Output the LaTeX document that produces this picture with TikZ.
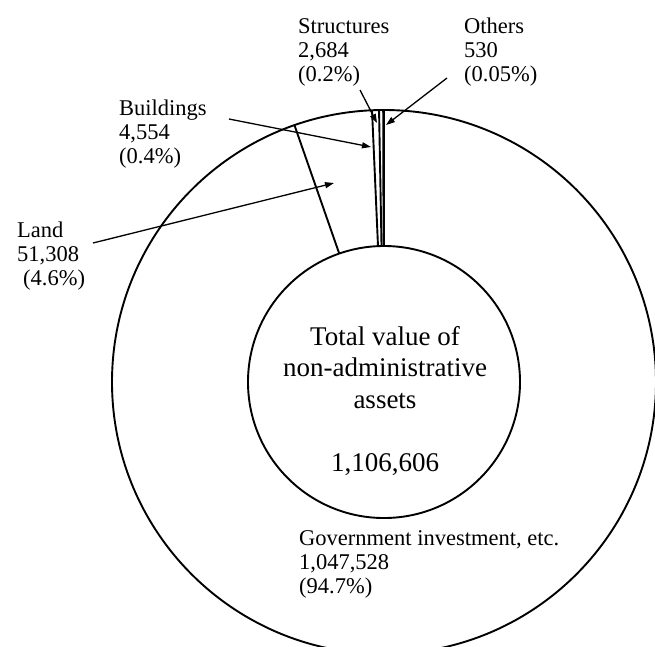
\documentclass[tikz,border=0pt]{standalone}
\usepackage{fontspec}
\setmainfont{Liberation Serif}
\usetikzlibrary{arrows.meta}
\begin{document}
\begin{tikzpicture}[x=1pt,y=-1pt,
  ring/.style={line width=1.9pt},
  slice/.style={line width=1.9pt},
  pointer/.style={line width=1.3pt,-{Triangle[length=9pt,width=6pt]}},
  lbl/.style={anchor=base west,inner sep=0pt,font=\fontsize{22.5}{24.3}\selectfont},
  bigtext/.style={anchor=base,inner sep=0pt,font=\fontsize{27}{31.5}\selectfont},
]
\useasboundingbox (0,0) rectangle (655,646);
\clip (0,0) rectangle (655,646);

% donut: outer ring and inner total circle
\coordinate (c) at (384,382);
\draw[ring] (c) circle[radius=272pt];
\draw[ring] (c) circle[radius=136pt];

% slice boundaries (counter-clockwise from the top)
\foreach \a in {-90,-90.172,-91.045,-92.527,-109.22}
  \draw[slice] ([shift={(\a:136)}]c) -- ([shift={(\a:272)}]c);

% centre text
\node[bigtext] (total) at (385,345)
  {\begin{tabular}[t]{@{}c@{}}Total value of\\non-administrative\\assets\\[31.5pt]1,106,606\end{tabular}};

% labels
\node[lbl] (struc) at (298,33)
  {\begin{tabular}[t]{@{}l@{}}Structures\\2,684\\(0.2\%)\end{tabular}};
\node[lbl] (others) at (464,33)
  {\begin{tabular}[t]{@{}l@{}}Others\\530\\(0.05\%)\end{tabular}};
\node[lbl] (bldg) at (119,115)
  {\begin{tabular}[t]{@{}l@{}}Buildings\\4,554\\(0.4\%)\end{tabular}};
\node[lbl] (land) at (17,237)
  {\begin{tabular}[t]{@{}l@{}}Land\\51,308\\\hspace*{6pt}(4.6\%)\end{tabular}};
\node[lbl] (gov) at (299,545)
  {\begin{tabular}[t]{@{}l@{}}Government investment, etc.\\1,047,528\\(94.7\%)\end{tabular}};

% pointer ends
\coordinate (strucTail) at (360,90);
\coordinate (strucTip) at (377,123);
\coordinate (othersTail) at (447,78);
\coordinate (othersTip) at (386,125);
\coordinate (bldgTail) at (229,119);
\coordinate (bldgTip) at (371,147);
\coordinate (landTail) at (93,243);
\coordinate (landTip) at (334,183);

\draw[pointer] (strucTail) -- (strucTip);
\draw[pointer] (othersTail) -- (othersTip);
\draw[pointer] (bldgTail) -- (bldgTip);
\draw[pointer] (landTail) -- (landTip);
\end{tikzpicture}
\end{document}
